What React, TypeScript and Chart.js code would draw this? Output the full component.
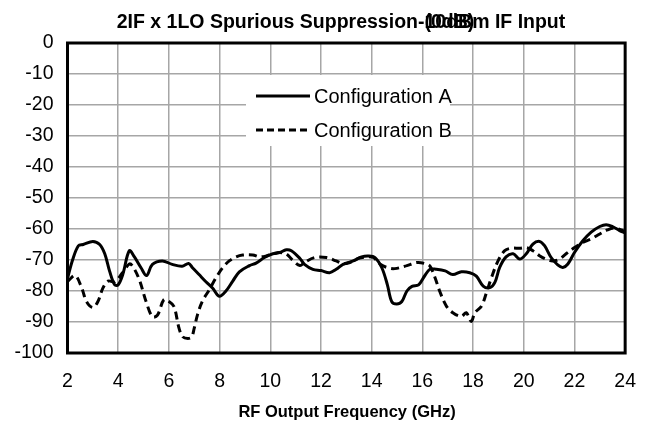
import React, { useEffect, useRef } from "react";
import { Chart, registerables } from "chart.js";

Chart.register(...registerables);

const TITLE_MAIN = "2IF x 1LO Spurious Suppression-10dBm IF Input";
const TITLE_OVERLAP = "(0dB)";
const X_TITLE = "RF Output Frequency (GHz)";
const SERIES_NAMES = ["Configuration A", "Configuration B"];

const freqA = [2.0, 2.2, 2.43, 2.62, 3.0, 3.27, 3.47, 3.66, 3.86, 4.0, 4.18, 4.44, 4.64, 4.9, 5.12, 5.35, 5.74, 6.13, 6.52, 6.78, 6.93, 7.19, 7.46, 7.72, 7.99, 8.25, 8.52, 8.78, 9.18, 9.44, 9.77, 10.1, 10.37, 10.63, 10.83, 11.17, 11.35, 11.68, 12.0, 12.34, 12.6, 12.87, 13.27, 13.6, 13.87, 14.13, 14.4, 14.62, 14.79, 14.99, 15.19, 15.39, 15.59, 15.85, 16.1, 16.3, 16.55, 16.9, 17.2, 17.54, 17.87, 18.13, 18.4, 18.66, 18.86, 19.05, 19.3, 19.58, 19.84, 20.1, 20.36, 20.62, 20.82, 21.08, 21.34, 21.54, 21.74, 22.0, 22.33, 22.66, 23.0, 23.25, 23.5, 23.78, 24.0];
const valA = [-76, -70, -65.4, -65, -64, -65, -68, -73.6, -78, -78, -74.7, -67, -69, -72.5, -75, -71.4, -70.3, -71.4, -72, -71.1, -72.5, -74.7, -77, -79, -81.7, -80, -76.8, -73.8, -71.8, -71, -69.2, -68, -67.6, -66.7, -67, -69.5, -71.4, -73, -73.4, -74.1, -73, -71.4, -70.3, -69, -68.7, -69.2, -72.5, -78, -83.4, -84.2, -83.4, -80, -78.5, -78, -75, -73, -73, -73.5, -74.7, -73.8, -74.1, -75.2, -78.4, -78.9, -77.2, -72.4, -69, -68, -69.7, -68, -64.9, -64, -65.4, -69.2, -71.6, -72.4, -71.3, -67.6, -63.8, -61, -59.2, -58.6, -59.2, -60.5, -61.3];

const freqB = [2.0, 2.3, 2.56, 2.75, 3.0, 3.2, 3.4, 3.6, 3.86, 4.18, 4.44, 4.57, 4.83, 5.1, 5.35, 5.55, 5.8, 6.0, 6.2, 6.4, 6.55, 6.75, 6.9, 7.0, 7.13, 7.32, 7.6, 7.86, 8.12, 8.38, 8.65, 8.91, 9.31, 9.58, 9.84, 10.1, 10.37, 10.63, 10.9, 11.17, 11.35, 11.75, 12.21, 12.6, 12.87, 13.14, 13.47, 13.8, 14.07, 14.34, 14.73, 14.99, 15.39, 15.79, 16.12, 16.3, 16.5, 16.68, 16.95, 17.2, 17.54, 17.73, 17.93, 18.07, 18.33, 18.53, 18.72, 18.99, 19.25, 19.51, 19.84, 20.1, 20.36, 20.62, 20.88, 21.14, 21.41, 21.67, 22.0, 22.33, 22.66, 23.0, 23.3, 23.57, 23.85, 24.0];
const valB = [-77, -75, -79, -83.4, -85.3, -83.4, -79, -76.8, -77, -74, -71.3, -72, -76.3, -83.4, -88.3, -87.8, -82.8, -83.4, -85, -92, -94.8, -95.3, -94.8, -92, -87.6, -83.3, -79.5, -75.7, -72.5, -70.3, -69, -68.4, -68.4, -69, -68.7, -68, -67.6, -68, -70.2, -71.8, -70.8, -69.2, -69.2, -70.3, -71.2, -70.8, -69.5, -69, -69.2, -71.4, -72.7, -72.7, -71.8, -70.8, -71.2, -72, -75.7, -80, -84.9, -87, -88.2, -87, -89.8, -87, -84.9, -80.5, -75.8, -70.2, -67, -66.2, -66.2, -66, -67, -68.6, -69.7, -70.3, -69.7, -68, -66, -64.3, -63.2, -61.6, -60.3, -59.7, -60.3, -61];

const X_MIN = 2, X_MAX = 24, X_STEP = 2;
const Y_MIN = -100, Y_MAX = 0, Y_STEP = 10;

const FONT = "'Liberation Sans', Arial, sans-serif";

const decorPlugin = {
  id: "decor",
  afterDatasetsDraw(chart: any) {
    const { ctx, chartArea } = chart;
    const { left, right, top, bottom } = chartArea;
    ctx.save();
    // legend box
    const lx = 246, ly = 75, lw = 204, lh = 71;
    ctx.fillStyle = "#ffffff";
    ctx.fillRect(lx, ly, lw, lh);
    ctx.strokeStyle = "#000";
    ctx.lineWidth = 3;
    const rows = [96, 130];
    rows.forEach((yy, i) => {
      ctx.beginPath();
      ctx.setLineDash(i === 0 ? [] : [7, 4]);
      ctx.moveTo(256, yy);
      ctx.lineTo(310, yy);
      ctx.stroke();
      ctx.setLineDash([]);
      ctx.fillStyle = "#000";
      ctx.font = `20px ${FONT}`;
      ctx.textBaseline = "middle";
      ctx.textAlign = "left";
      ctx.fillText(SERIES_NAMES[i], 314, yy + 1);
    });
    // border
    ctx.lineWidth = 3;
    ctx.strokeStyle = "#000";
    ctx.strokeRect(left, top, right - left, bottom - top);
    // titles
    ctx.fillStyle = "#000";
    ctx.font = `bold 19.5px ${FONT}`;
    ctx.textBaseline = "alphabetic";
    ctx.textAlign = "left";
    const tw = ctx.measureText(TITLE_MAIN).width;
    const tx = 341 - tw / 2;
    ctx.fillText(TITLE_MAIN, tx, 28);
    const pre = ctx.measureText(TITLE_MAIN.slice(0, TITLE_MAIN.indexOf("-1") + 1)).width;
    ctx.fillText(TITLE_OVERLAP, tx + pre, 28);
    ctx.textAlign = "center";
    ctx.textBaseline = "middle";
    ctx.font = `bold 16.5px ${FONT}`;
    ctx.fillText(X_TITLE, 347, 412);
    ctx.restore();
  },
};

export default function App() {
  const ref = useRef<HTMLCanvasElement | null>(null);
  useEffect(() => {
    document.body.style.margin = "0";
    const canvas = ref.current;
    if (!canvas) return;
    const chart = new Chart(canvas, {
      type: "line",
      data: {
        datasets: [
          {
            label: SERIES_NAMES[0],
            data: freqA.map((f, i) => ({ x: f, y: valA[i] })),
            borderColor: "#000",
            borderWidth: 3,
            pointRadius: 0,
            tension: 0.35,
            fill: false,
          },
          {
            label: SERIES_NAMES[1],
            data: freqB.map((f, i) => ({ x: f, y: valB[i] })),
            borderColor: "#000",
            borderWidth: 3,
            borderDash: [8, 5],
            pointRadius: 0,
            tension: 0.35,
            fill: false,
          },
        ],
      },
      options: {
        responsive: false,
        animation: false,
        layout: { padding: { left: 0, right: 27, top: 43, bottom: 0 } },
        plugins: { legend: { display: false }, title: { display: false }, tooltip: { enabled: false } },
        scales: {
          x: {
            type: "linear",
            min: X_MIN,
            max: X_MAX,
            ticks: { stepSize: X_STEP, color: "#000", font: { family: FONT, size: 19.5 }, padding: 17, maxRotation: 0 },
            grid: { color: "#a6a6a6", lineWidth: 1.5, drawTicks: false },
            border: { display: false },
            afterFit: (s: any) => { s.height = 73; },
          },
          y: {
            min: Y_MIN,
            max: Y_MAX,
            ticks: { stepSize: Y_STEP, color: "#000", font: { family: FONT, size: 19.5 }, padding: 14 },
            grid: { color: "#a6a6a6", lineWidth: 1.5, drawTicks: false },
            border: { display: false },
            afterFit: (s: any) => { s.width = 67.5; },
          },
        },
      },
      plugins: [decorPlugin],
    });
    return () => chart.destroy();
  }, []);
  return (
    <div style={{ width: 653, height: 426 }}>
      <canvas ref={ref} width={653} height={426} style={{ display: "block" }} />
    </div>
  );
}
